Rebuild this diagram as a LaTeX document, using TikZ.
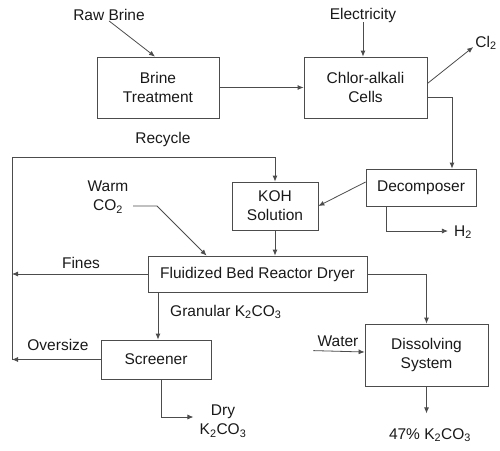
\documentclass[tikz,border=0pt]{standalone}
\usepackage{fontspec}
\setmainfont{Liberation Sans}
\usetikzlibrary{arrows.meta,calc}
\tikzset{
  box/.style={draw=black!70, line width=0.8pt, align=center, inner sep=0pt, text=black!90},
  lbl/.style={align=center, inner sep=0pt, text=black!90},
  ln/.style={draw=black!70, line width=0.8pt},
  arr/.style={ln, -{Latex[length=6pt,width=5pt]}}
}
\begin{document}
\begin{tikzpicture}[x=1pt,y=-1pt,font=\fontsize{15.5}{19}\selectfont]
\useasboundingbox (0,0) rectangle (500,450);
% boxes
\node[box, minimum width=122, minimum height=61] (brine) at (158,87.5) {Brine\\Treatment};
\node[box, minimum width=123, minimum height=61] (chlor) at (365.5,87.5) {Chlor-alkali\\Cells};
\node[box, minimum width=110, minimum height=37] (decomp) at (421,187.5) {Decomposer};
\node[box, minimum width=86, minimum height=48] (koh) at (275,206) {KOH\\Solution};
\node[box, minimum width=219, minimum height=36] (fbr) at (257.5,274) {Fluidized Bed Reactor Dryer};
\node[box, minimum width=123, minimum height=62] (dis) at (426.5,355) {Dissolving\\System};
\node[box, minimum width=110, minimum height=39] (scr) at (156,359.5) {Screener};
% labels
\node[lbl] (rb) at (109,15) {Raw Brine};
\node[lbl] (elec) at (363,15) {Electricity};
\node[lbl] (cl2) at (486,43) {Cl\textsubscript{2}};
\node[lbl] (h2) at (463,232) {H\textsubscript{2}};
\node[lbl] (rec) at (163,139) {Recycle};
\node[lbl] (co2) at (108,197) {Warm\\CO\textsubscript{2}};
\node[lbl] (fines) at (81,263) {Fines};
\node[lbl, anchor=west] (gran) at (170,312) {Granular K\textsubscript{2}CO\textsubscript{3}};
\node[lbl] (over) at (58,345) {Oversize};
\node[lbl] (water) at (338,341) {Water};
\node[lbl] (dry) at (223,421) {Dry\\K\textsubscript{2}CO\textsubscript{3}};
\node[lbl] (p47) at (430,435) {47\% K\textsubscript{2}CO\textsubscript{3}};
% coordinates
\coordinate (lt) at (12,157);
\coordinate (lb) at (12,360);
\coordinate (co2a) at (133,206);
\coordinate (co2b) at (157,206);
% connectors
\draw[arr] (rb.south) -- ($(brine.north)+(-3,0)$);
\draw[arr] (elec.south) -- (elec.south |- chlor.north);
\draw[arr] (brine.east) -- (chlor.west);
\draw[arr] ($(chlor.east)+(0,-4)$) -- ($(cl2.west)+(-2,4)$);
\draw[arr] ($(chlor.east)+(0,10)$) -| ($(decomp.north)+(31,0)$);
\draw[arr] ($(decomp.west)+(0,-5.5)$) -- (koh.east);
\draw[arr] ($(decomp.south west)+(21,0)$) |- ($(h2.west)+(-6,-1)$);
\draw[arr] (lb) -- (lt) -| (koh.north);
\draw[arr] (fbr.west) -- (fbr.west -| lb);
\draw[arr] (scr.west) -- (scr.west -| lb);
\draw[arr] (co2a) -- (co2b) -- ($(fbr.north west)+(59,0)$);
\draw[arr] (koh.south) -- (koh.south |- fbr.north);
\draw[arr] (fbr.east) -| (dis.north);
\draw[arr] ($(water.south west)+(-4,4)$) -- ($(dis.west)+(0,-3)$);
\draw[arr] (dis.south) -- ($(dis.south)+(0,27)$);
\draw[arr] ([xshift=2pt]scr.north |- fbr.south) -- ([xshift=2pt]scr.north);
\draw[arr] ([xshift=5pt]scr.south) |- ($(dry.west)+(-6,-4)$);
\end{tikzpicture}
\end{document}
